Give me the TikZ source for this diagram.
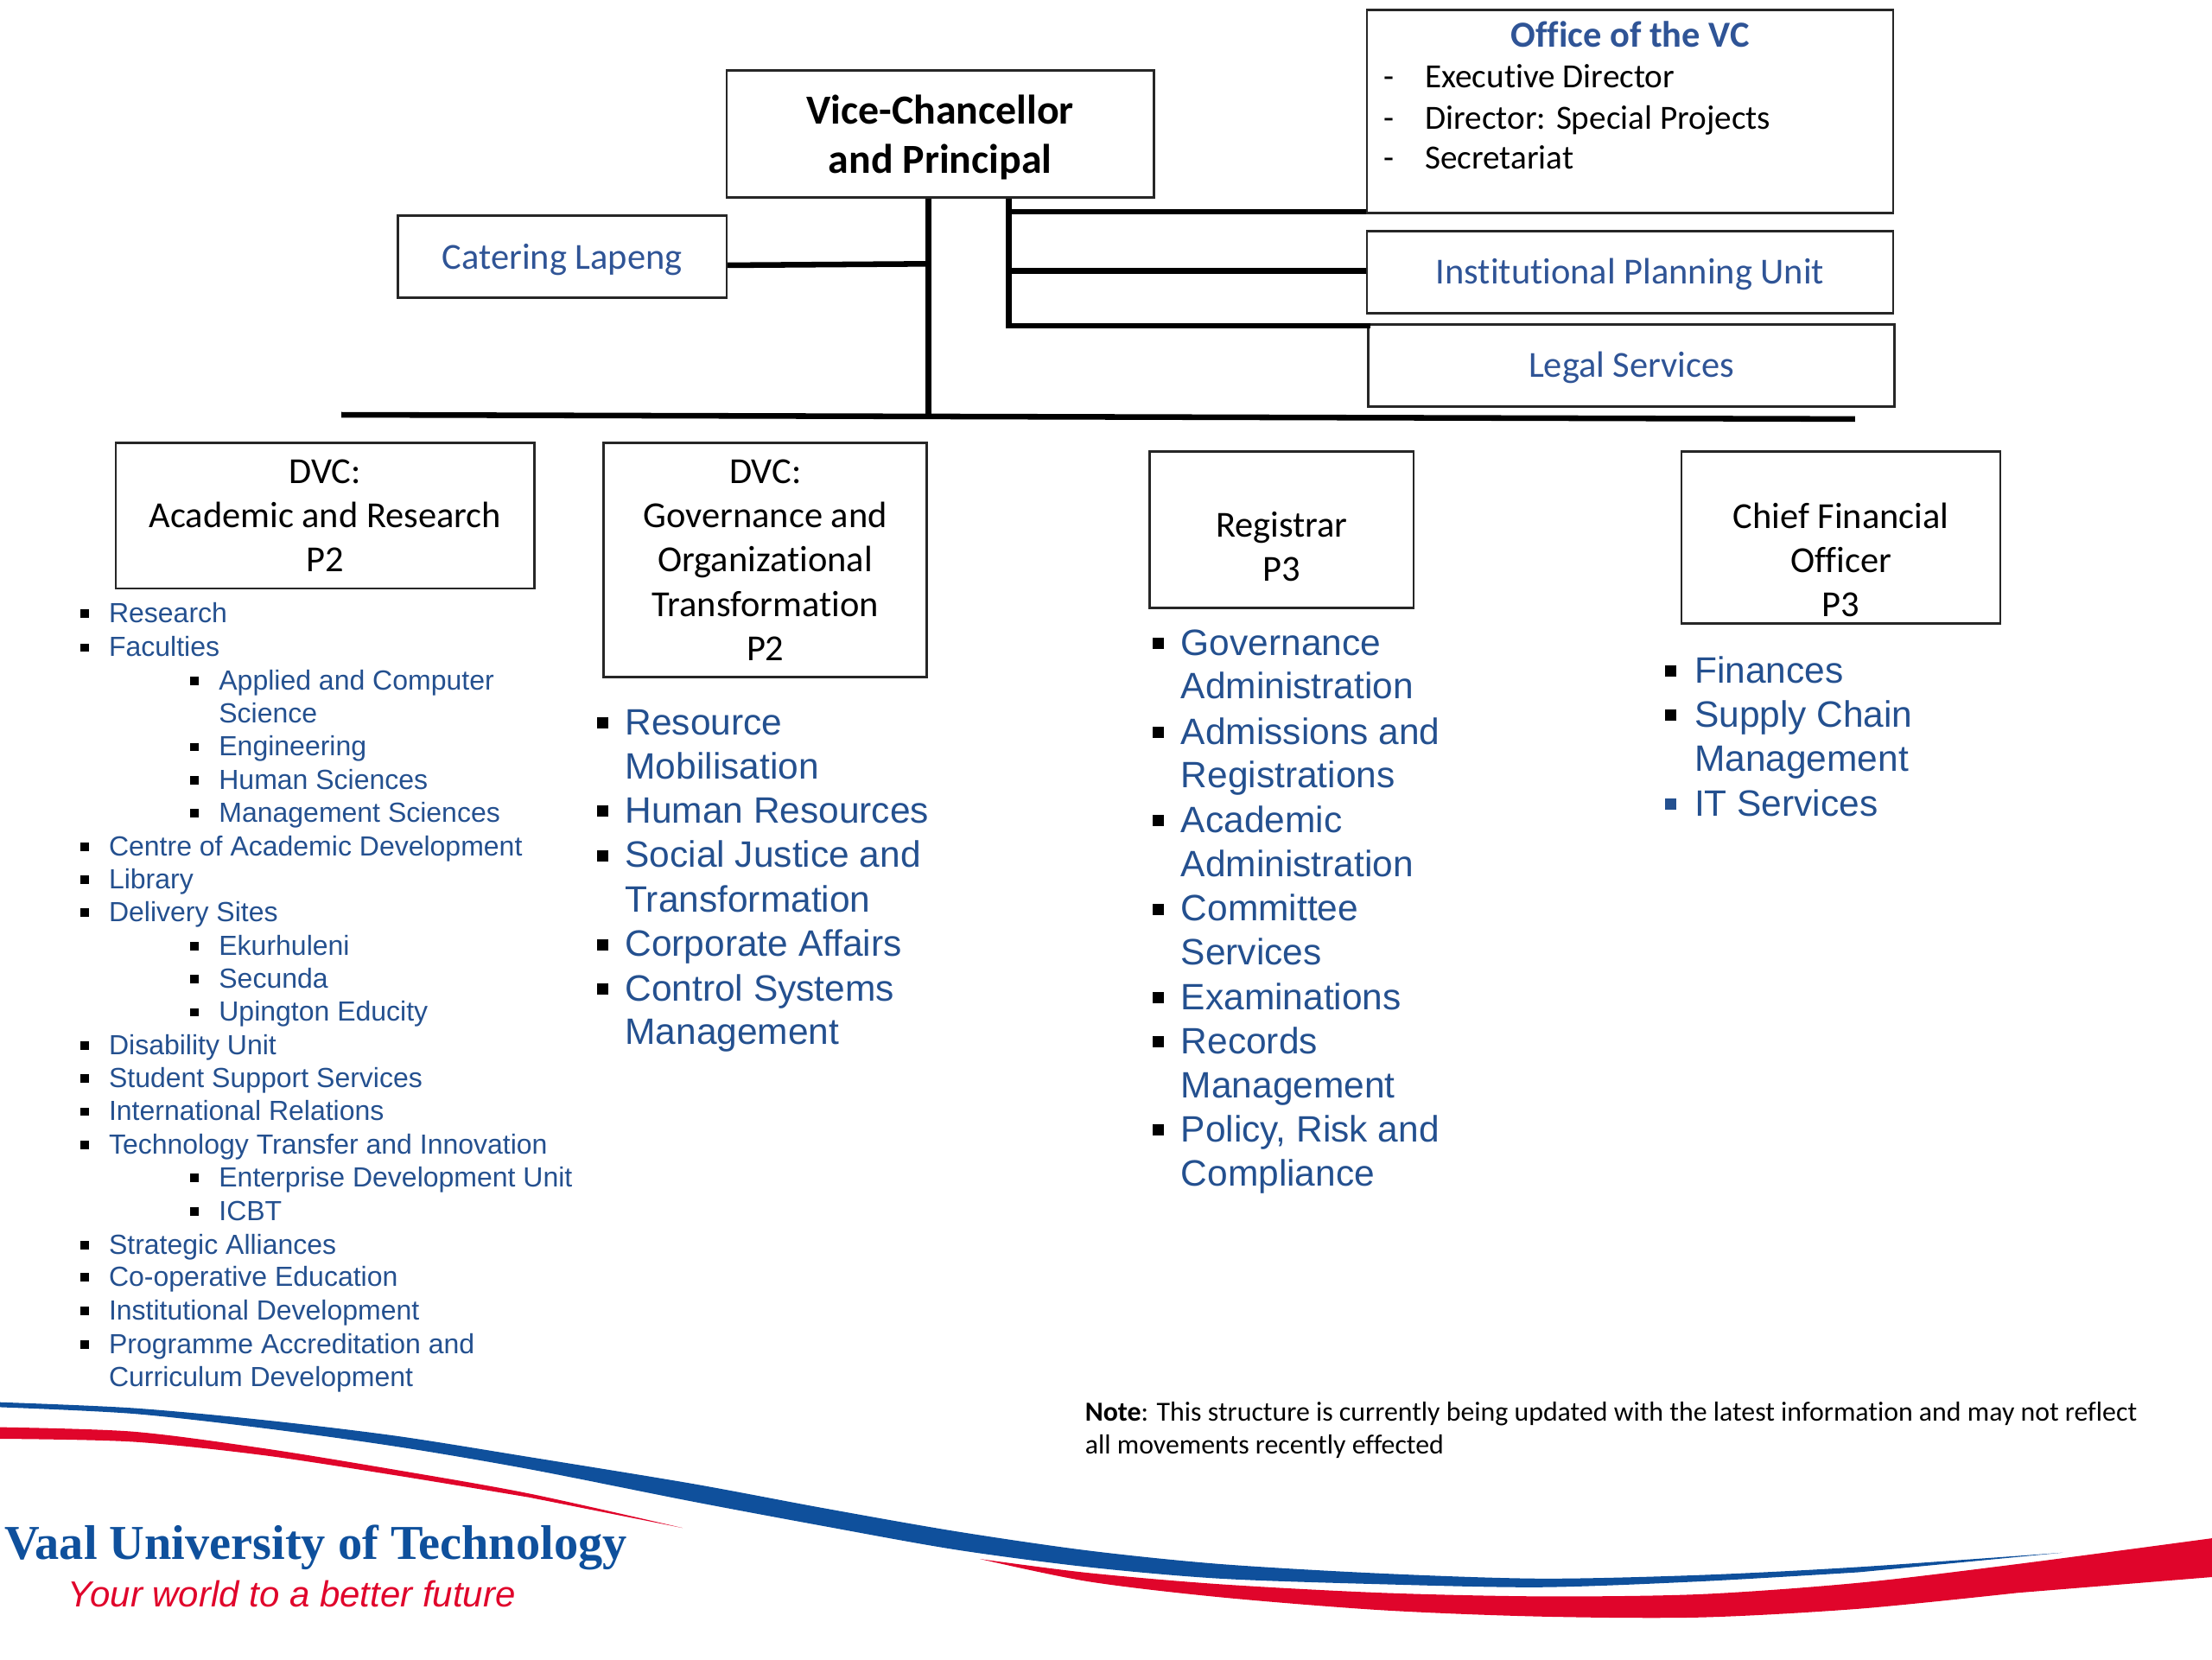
\documentclass[tikz,border=0pt]{standalone}
\usepackage{fontspec}
\setmainfont[Ligatures=NoCommon]{Carlito}
\newfontfamily\listfont{Liberation Sans}
\newfontfamily\logofont{Liberation Serif}
\usepackage[HTML]{xcolor}
\usetikzlibrary{positioning}
\definecolor{unitblue}{HTML}{2F5496}
\definecolor{listblue}{HTML}{24508F}
\definecolor{swooshblue}{HTML}{0F509C}
\definecolor{swooshred}{HTML}{E0052B}
\tikzset{
  orgbox/.style={draw=black!85,line width=1.6pt,fill=white,align=center,inner sep=0pt,font=\fontsize{26}{31.3}\selectfont},
  oneline/.style={text height=17pt,text depth=0pt,text=unitblue},
  boxtext/.style={align=center,inner sep=0pt,font=\fontsize{26}{31.3}\selectfont},
  link/.style={line width=4pt},
  smalllist/.style={anchor=mid west,inner sep=0pt,yshift=-4pt,text=listblue,font=\listfont\fontsize{19.6}{24}\selectfont},
  biglist/.style={anchor=mid west,inner sep=0pt,yshift=-6pt,text=listblue,font=\listfont\fontsize{26}{31}\selectfont},
  officetext/.style={anchor=mid west,inner sep=0pt,yshift=-5pt,font=\fontsize{24}{26}\selectfont},
  notetext/.style={anchor=mid west,inner sep=0pt,yshift=-4pt,font=\fontsize{19.5}{24}\selectfont}
}
\begin{document}
\begin{tikzpicture}[x=1pt,y=-1pt]
\useasboundingbox (0,0) rectangle (1568,1176);
% top boxes
\node[orgbox,minimum width=303,minimum height=90] (vc) at (666.5,95) {};
\node[boxtext,font=\bfseries\fontsize{29.3}{35.2}\selectfont] (vctext) at (666.5,97.5) {Vice-Chancellor\\and Principal};
\node[orgbox,minimum width=373,minimum height=144] (office) at (1155.5,79) {};
\node[orgbox,oneline,minimum width=233,minimum height=58] (catering) at (398.5,182) {Catering Lapeng};
\node[orgbox,oneline,minimum width=373,minimum height=58] (planning) at (1155.5,193) {Institutional Planning Unit};
\node[orgbox,oneline,minimum width=373,minimum height=58] (legal) at (1156.5,259) {Legal Services};
% inside the office box
\node[anchor=mid,inner sep=0pt,text=unitblue,font=\bfseries\fontsize{26}{28}\selectfont] (officetitle) at (1155.5,31) {Office of the VC};
\foreach \yy/\txt in {55/Executive Director,84/Director: Special Projects,112.5/Secretariat}{
  \node[officetext] (dash\yy) at (981,\yy) {-};
  \node[officetext] (staff\yy) at (1010,\yy) {\txt};
}
% lower boxes
\node[orgbox,minimum width=297,minimum height=103] (dvcacad) at (230.5,365.5) {DVC:\\Academic and Research\\P2};
\node[orgbox,minimum width=229,minimum height=166] (dvcgov) at (542.5,397) {DVC:\\Governance and\\Organizational\\Transformation\\P2};
\node[orgbox,minimum width=187,minimum height=111] (registrar) at (908.5,375.5) {};
\node[boxtext] (registrartext) at (908.5,387.5) {Registrar\\P3};
\node[orgbox,minimum width=226,minimum height=122] (cfo) at (1305,381) {};
\node[boxtext] (cfotext) at (1305,397) {Chief Financial\\Officer\\P3};
% connectors
\coordinate (busleft) at (242,294);
\coordinate (busright) at (1315,297);
\coordinate (busjoin) at (658,295);
\coordinate (sidebottom) at (715,231);
\draw[link] (busleft) -- (busright);
\draw[link] (vc.south -| busjoin) -- (busjoin);
\draw[link] (vc.south -| sidebottom) -- (sidebottom);
\draw[link] (catering.east |- 0,188) -- (658,187);
\draw[link] (715,150) -- (office.west |- 0,150);
\draw[link] (715,192) -- (planning.west |- 0,192);
\draw[link,line cap=rect] (sidebottom) -- (legal.west |- sidebottom);
% academic list
\foreach \yy/\txt in {435/Research,459/Faculties,600/Centre of Academic Development,623.5/Library,647/Delivery Sites,741/Disability Unit,764.5/Student Support Services,788/International Relations,811.5/Technology Transfer and Innovation,882.5/Strategic Alliances,905.5/Co-operative Education,929/Institutional Development,953/Programme Accreditation and}{
  \fill (57,\yy-3) rectangle +(6,6);
  \node[smalllist] (acad\yy) at (77,\yy) {\txt};
}
\node[smalllist] (acadlast) at (77,976.5) {Curriculum Development};
\foreach \yy/\txt in {482.5/Applied and Computer,529.5/Engineering,553/Human Sciences,576.5/Management Sciences,670.5/Ekurhuleni,694/Secunda,717.5/Upington Educity,835/Enterprise Development Unit,858.5/ICBT}{
  \fill (135,\yy-3) rectangle +(6,6);
  \node[smalllist] (sub\yy) at (155,\yy) {\txt};
}
\node[smalllist] (subscience) at (155,506) {Science};
% governance list
\foreach \yy/\txt in {512.5/Resource,575/Human Resources,606.5/Social Justice and,669.5/Corporate Affairs,701/Control Systems}{
  \fill (423,\yy-4) rectangle +(8,8);
  \node[biglist] (gov\yy) at (443,\yy) {\txt};
}
\foreach \yy/\txt in {544/Mobilisation,638/Transformation,732/Management}{
  \node[biglist] (govmore\yy) at (443,\yy) {\txt};
}
% registrar list
\foreach \yy/\txt in {456/Governance,519/Admissions and,581.5/Academic,644.5/Committee,707/Examinations,738.5/Records,801/{Policy, Risk and}}{
  \fill (817,\yy-4) rectangle +(8,8);
  \node[biglist] (reg\yy) at (837,\yy) {\txt};
}
\foreach \yy/\txt in {487/Administration,550/Registrations,613/Administration,675.5/Services,770/Management,832.5/Compliance}{
  \node[biglist] (regmore\yy) at (837,\yy) {\txt};
}
% finance list
\foreach \yy/\txt in {475.5/Finances,507/Supply Chain}{
  \fill (1180,\yy-4) rectangle +(8,8);
  \node[biglist] (fin\yy) at (1201,\yy) {\txt};
}
\node[biglist] (finmore) at (1201,538.5) {Management};
\fill[listblue] (1180,566) rectangle +(8,8);
\node[biglist] (finit) at (1201,570) {IT Services};
% note
\node[notetext] (note1) at (769,1001) {\textbf{Note}: This structure is currently being updated with the latest information and may not reflect};
\node[notetext] (note2) at (769,1024) {all movements recently effected};
% swooshes
\fill[swooshblue] plot[smooth] coordinates {(0,993.9) (94,998) (187,1006.5) (281,1017.8) (375,1032.7) (490,1051.5) (584,1069) (677.5,1085.4) (771,1099) (865,1108.6) (980,1115.3) (1092.5,1118.9) (1205,1116.4) (1317.5,1110.7) (1462,1100.5)}
  -- plot[smooth] coordinates {(1317.5,1114.4) (1205,1120.9) (1092.5,1125) (980,1122.9) (865,1118.9) (771,1110.7) (677.5,1098.4) (584,1081.7) (490,1064.1) (375,1041.3) (281,1025.3) (187,1012.3) (94,1002) (0,997.4)} -- cycle;
\fill[swooshred] plot[smooth] coordinates {(0,1011.6) (94,1014.7) (187,1026.6) (281,1041.9) (375,1058.6) (484,1083)}
  -- plot[smooth] coordinates {(375,1061.3) (281,1045.8) (187,1031.5) (94,1021.9) (0,1019.8)} -- cycle;
\fill[swooshred] plot[smooth] coordinates {(694.7,1105) (771,1114.8) (865,1122.9) (980,1129) (1092.5,1131.5) (1205,1130) (1317.5,1121.9) (1430,1108.6) (1568,1090.3)}
  -- (1568,1117.8) -- plot[smooth] coordinates {(1430,1129) (1317.5,1140.3) (1205,1146.4) (1092.5,1145.8) (980,1141.3) (865,1132.1) (771,1120.9) (694.7,1105)} -- cycle;
% logo
\node[anchor=base west,inner sep=0pt,text=swooshblue,font=\logofont\bfseries\fontsize{34.5}{40}\selectfont] (logoname) at (3,1105) {Vaal University of Technology};
\node[anchor=base west,inner sep=0pt,text=swooshred,font=\listfont\itshape\fontsize{25.7}{30}\selectfont] (logotag) at (48,1139) {Your world to a better future};
\end{tikzpicture}
\end{document}
